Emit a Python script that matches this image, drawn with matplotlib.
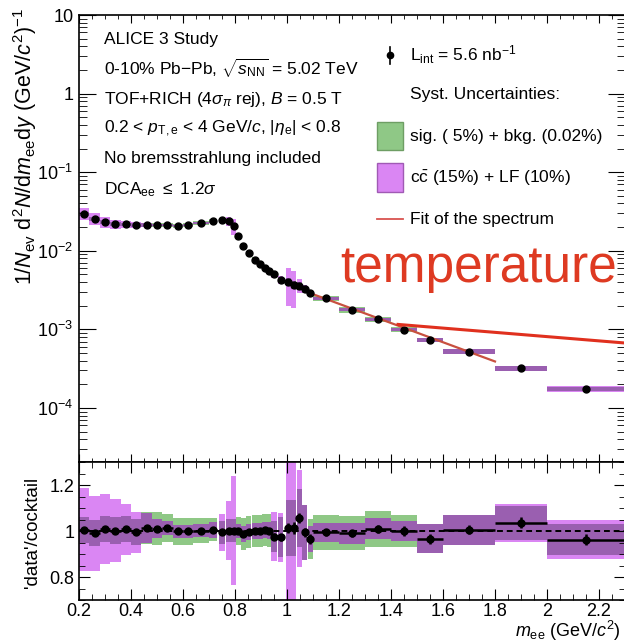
import numpy as np
import matplotlib.pyplot as plt
from matplotlib.patches import Rectangle
from matplotlib.lines import Line2D
from matplotlib.ticker import MultipleLocator, LogLocator, FixedLocator, FixedFormatter, NullFormatter

plt.rcParams['font.family'] = ['Liberation Sans', 'DejaVu Sans']
plt.rcParams['mathtext.fontset'] = 'custom'
plt.rcParams['mathtext.rm'] = 'Liberation Sans'
plt.rcParams['mathtext.it'] = 'Liberation Sans:italic'
plt.rcParams['mathtext.bf'] = 'Liberation Sans:bold'

# bin centres and half widths (GeV/c^2)
mass = [0.22, 0.26, 0.30, 0.34, 0.38, 0.42, 0.46, 0.50, 0.54, 0.58, 0.62,
        0.67, 0.715, 0.75, 0.775, 0.795, 0.813, 0.832, 0.852, 0.877, 0.896,
        0.915, 0.932, 0.95, 0.975, 1.005, 1.025, 1.047, 1.068, 1.09,
        1.15, 1.25, 1.35, 1.45, 1.55, 1.70, 1.90, 2.15]
half_width = [0.02] * 11 + [0.03, 0.015] + [0.01] * 17 + [0.05] * 5 + [0.10, 0.10, 0.15]

# dN/dm spectrum
spectrum = [0.0296, 0.0256, 0.0231, 0.0218, 0.0216, 0.0213, 0.0213, 0.0213, 0.0212, 0.0207, 0.0213,
            0.0226, 0.0238, 0.0243, 0.0240, 0.0206, 0.0153, 0.0115, 0.0094, 0.0077, 0.0068,
            0.0061, 0.0055, 0.0050, 0.0043, 0.0040, 0.0037, 0.0036, 0.0033, 0.0029,
            0.00247, 0.00177, 0.00135, 0.00099, 0.00073, 0.00052, 0.00032, 0.000174]

# data / cocktail
ratio = [1.005, 0.990, 1.008, 1.002, 1.008, 0.995, 1.013, 1.010, 1.015, 0.998, 0.998,
         1.002, 1.005, 0.994, 1.002, 1.002, 1.001, 0.988, 0.994, 1.000, 1.000,
         1.005, 1.002, 0.976, 0.973, 1.013, 1.013, 1.056, 0.994, 0.965,
         0.994, 0.990, 1.010, 1.000, 0.966, 1.005, 1.036, 0.963]
ratio_err = [0.008] * 13 + [0.01] * 10 + [0.015, 0.015, 0.02, 0.025, 0.022, 0.02, 0.02,
             0.015, 0.015, 0.018, 0.02, 0.022, 0.02, 0.024, 0.026]

# relative systematic uncertainties
sig_bkg_unc = [0.057, 0.057, 0.057, 0.057, 0.057, 0.057, 0.07, 0.07, 0.06, 0.06, 0.06,
               0.055, 0.05, 0.05, 0.05, 0.05, 0.06, 0.07, 0.07, 0.07, 0.07,
               0.07, 0.07, 0.07, 0.09, 0.12, 0.12, 0.12, 0.12, 0.09,
               0.075, 0.075, 0.077, 0.068, 0.065, 0.066, 0.072, 0.068]
ccbar_lf_unc = [0.18, 0.165, 0.15, 0.135, 0.11, 0.09, 0.065, 0.04, 0.03, 0.03, 0.03,
                0.03, 0.035, 0.08, 0.13, 0.235, 0.03, 0.035, 0.035, 0.035, 0.035,
                0.035, 0.035, 0.11, 0.11, 0.5, 0.5, 0.2, 0.12, 0.06,
                0.04, 0.045, 0.045, 0.043, 0.065, 0.066, 0.08, 0.088]

# fit of the spectrum and hand-drawn temperature line
fit_mass = [1.1, 1.8]
fit_yield = [2.8e-3, 3.9e-4]
temp_mass = [1.427, 2.3]
temp_yield = [1.155e-3, 6.7e-4]

ytick_vals = [1e-4, 1e-3, 1e-2, 1e-1, 1, 10]
ytick_labels = ['$10^{-4}$', '$10^{-3}$', '$10^{-2}$', '$10^{-1}$', '1', '10']

GREEN = '#8fc886'
PINK = '#da86f3'
PURPLE = '#9a5fb0'

W, H = 624, 643
def fx(px): return px / W
def fy(py): return 1 - py / H

m = np.array(mass)
hw = np.array(half_width)
y = np.array(spectrum)
r = np.array(ratio)
g = np.array(sig_bkg_unc)
p = np.array(ccbar_lf_unc)
ov = np.minimum(g, p)

fig = plt.figure(figsize=(W / 100, H / 100), dpi=100)
ax1 = fig.add_axes([fx(79), fy(462), fx(625) - fx(79), fy(15) - fy(462)])
ax2 = fig.add_axes([fx(79), fy(600), fx(625) - fx(79), fy(462) - fy(600)])

# ---- top panel
for u, c in [(g, GREEN), (p, PINK), (ov, PURPLE)]:
    ax1.bar(m, 2 * u * y, width=2 * hw, bottom=y * (1 - u), color=c, edgecolor='none', zorder=1)
ax1.plot(fit_mass, fit_yield, color='#c8503f', lw=1.6, zorder=3)
ax1.errorbar(m, y, yerr=y * np.array(ratio_err), fmt='o', color='black', ms=5, lw=1, zorder=4)
ax1.plot(temp_mass, temp_yield, color='#e0301e', lw=2.2, zorder=5, clip_on=False)

ax1.set_yscale('log')
ax1.set_xlim(0.2, 2.3)
ax1.set_ylim(2.05e-5, 10)
ax1.yaxis.set_major_locator(FixedLocator(ytick_vals))
ax1.yaxis.set_major_formatter(FixedFormatter(ytick_labels))
ax1.yaxis.set_minor_locator(LogLocator(base=10, subs=np.arange(2, 10), numticks=20))
ax1.yaxis.set_minor_formatter(NullFormatter())
ax1.xaxis.set_major_locator(MultipleLocator(0.2))
ax1.xaxis.set_minor_locator(MultipleLocator(0.05))
ax1.tick_params(axis='x', which='both', direction='in', top=True, bottom=True, labelbottom=False)
ax1.tick_params(axis='x', which='major', length=6)
ax1.tick_params(axis='x', which='minor', length=3)
ax1.tick_params(axis='y', which='both', direction='in', left=True, right=True, labelsize=13, pad=4)
ax1.tick_params(axis='y', which='major', length=12)
ax1.tick_params(axis='y', which='minor', length=6)

# ---- ratio panel
for u, c in [(g, GREEN), (p, PINK), (ov, PURPLE)]:
    ax2.bar(m, 2 * u * r, width=2 * hw, bottom=r * (1 - u), color=c, edgecolor='none', zorder=1)
ax2.axhline(1.0, color='black', lw=1.4, ls=(0, (3, 2)), zorder=2)
ax2.errorbar(m, r, xerr=hw, yerr=ratio_err, fmt='o', color='black', ms=5, lw=1.8, zorder=4)
ax2.set_xlim(0.2, 2.3)
ax2.set_ylim(0.7, 1.3)
ax2.xaxis.set_major_locator(MultipleLocator(0.2))
ax2.xaxis.set_minor_locator(MultipleLocator(0.05))
ax2.yaxis.set_major_locator(MultipleLocator(0.2))
ax2.yaxis.set_minor_locator(MultipleLocator(0.05))
ax2.xaxis.set_major_formatter(plt.FuncFormatter(lambda v, pos: f'{v:g}'))
ax2.yaxis.set_major_formatter(plt.FuncFormatter(lambda v, pos: f'{v:g}'))
ax2.tick_params(axis='both', which='both', direction='in', top=True, right=True, labelsize=13)
ax2.tick_params(axis='both', which='major', length=8)
ax2.tick_params(axis='both', which='minor', length=4)
ax2.tick_params(axis='x', pad=2)

for ax in (ax1, ax2):
    for s in ax.spines.values():
        s.set_linewidth(1.2)

# axis titles
fig.text(fx(25), fy(8), r'1/$N_{\mathrm{ev}}$ d$^{2}$$N$/d$m_{\mathrm{ee}}$d$y$ (GeV/$c^{2}$)$^{-1}$',
         rotation=90, ha='center', va='top', fontsize=15.5)
fig.text(fx(33), fy(532), "'data'/cocktail", rotation=90, ha='center', va='center', fontsize=13.5)
fig.text(fx(621), fy(637), r'$m_{\mathrm{ee}}$ (GeV/$c^{2}$)', ha='right', va='baseline', fontsize=13)

# info text
info = ['ALICE 3 Study',
        r'0-10% Pb$-$Pb, $\sqrt{s_{\mathrm{NN}}}$ = 5.02 TeV',
        r'TOF+RICH (4$\sigma_{\pi}$ rej), $B$ = 0.5 T',
        r'0.2 < $p_{\mathrm{T,e}}$ < 4 GeV/$c$, |$\eta_{\mathrm{e}}$| < 0.8',
        'No bremsstrahlung included',
        r'DCA$_{\mathrm{ee}}$ $\leq$ 1.2$\sigma$']
for txt, by in zip(info, [44, 75, 104, 133, 163, 194]):
    fig.text(fx(104), fy(by), txt, ha='left', va='baseline', fontsize=12.5)

# legend
fig.add_artist(Line2D([fx(390), fx(390)], [fy(47), fy(64)], color='black', lw=1.2))
fig.add_artist(Line2D([fx(390)], [fy(55)], marker='o', ms=4.5, color='black'))
fig.text(fx(410), fy(61), r'L$_{\mathrm{int}}$ = 5.6 nb$^{\mathrm{-1}}$', fontsize=12.5, va='baseline')
fig.text(fx(410), fy(99), 'Syst. Uncertainties:', fontsize=12.5, va='baseline')
fig.add_artist(Rectangle((fx(377), fy(150)), fx(403) - fx(377), fy(122) - fy(150),
                         facecolor=GREEN, edgecolor='#6e9e64', lw=1, transform=fig.transFigure))
fig.text(fx(410), fy(141), 'sig. ( 5%) + bkg. (0.02%)', fontsize=12.5, va='baseline')
fig.add_artist(Rectangle((fx(377), fy(192)), fx(403) - fx(377), fy(163) - fy(192),
                         facecolor=PINK, edgecolor='#a05ab4', lw=1, transform=fig.transFigure))
fig.text(fx(410), fy(183), r'c$\mathrm{\bar{c}}$ (15%) + LF (10%)', fontsize=12.5, va='baseline')
fig.add_artist(Line2D([fx(377), fx(403)], [fy(219), fy(219)], color='#d9534f', lw=1.3))
fig.text(fx(410), fy(224), 'Fit of the spectrum', fontsize=12.5, va='baseline')

fig.text(fx(340), fy(282), 'temperature', color='#de3a22', fontsize=37, ha='left', va='baseline')

fig.savefig('out.png', dpi=100)
